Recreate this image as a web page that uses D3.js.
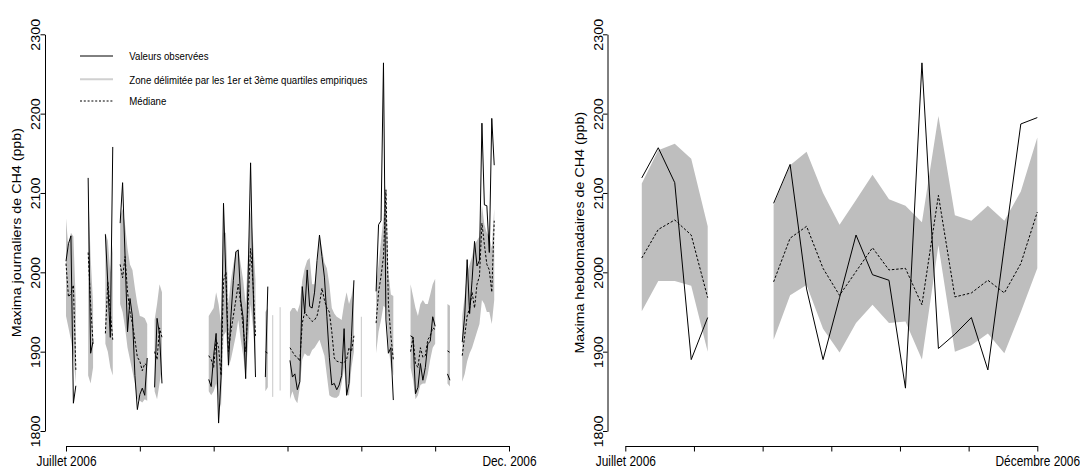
<!DOCTYPE html>
<html>
<head>
<meta charset="utf-8">
<script src="https://cdn.jsdelivr.net/npm/d3@7"></script>
<style>
  body { margin: 0; background: #fff; }
  svg { display: block; }
  text { font-family: "Liberation Sans", Arial, Helvetica, sans-serif; font-size: 11.9px; fill: #000; }
</style>
</head>
<body>
<div id="chart"></div>
<script>
// daily series, stored as runs of consecutive days (gaps = missing days)
const runStart = [0, 9, 16, 22, 36, 58, 81, 84, 87, 91, 120, 126, 140, 155, 161];
const dayObs = [
  [2014, 2036, 2046, 1835, 1857],
  [2119, 1898, 1913],
  [2048, 1985, 1918, 2158],
  [2062, 2113, 2020, 1925, 1967, 1944, 1870, 1827, 1846, 1854, 1845, 1892],
  [1855, 1942, 1922, 1860],
  [1865, 1856, 1895, 1923, 1810, 1868, 2087, 1990, 1883, 1944, 1990, 2026, 2028, 1965, 1942, 1866, 1993, 2138, 1985, 1868],
  [1868, 1982],
  [null],
  [null],
  [1889, 1868, 1872, 1852, 1862, 1982, 1949, 2003, 1957, 1955, 1975, 2015, 2047, 2020, 1994, 1944, 1893, 1858, 1860, 1852, 1858, 1870, 1929, 1845, 1860, 1919, 1990],
  [null],
  [1976, 2060, 2065, 2264, 1940, 1898, 1905, 1839],
  [1920, 1918, 1847, 1855, 1885, 1864, 1880, 1910, 1913, 1944, 1932],
  [1872, 1864],
  [1912, 1945, 2016, 1948, 1990, 2039, 2008, 2015, 2188, 2085, 2084, 2025, 2194, 2135]
];
const dayMed = [
  [2011, 1969, 1973, 1984, 1877],
  [2025, 1960, 1910],
  [1923, 1988, 1950, 1915],
  [2010, 1993, 2020, 1975, 1950, 1935, 1915, 1893, 1888, 1876, 1885, 1882],
  [1900, 1890, 1930, 1918],
  [1895, 1890, 1880, 1915, 1905, 1870, 1990, 2000, 1900, 1925, 1945, 1965, 1985, 1960, 1930, 1900, 1960, 2030, 1985, 1920],
  [1900, 1898],
  [null],
  [null],
  [1905, 1900, 1895, 1893, 1888, 1936, 1950, 1945, 1942, 1938, 1940, 1945, 1960, 1980, 1965, 1955, 1950, 1925, 1892, 1888, 1887, 1886, 1886, 1890, 1905, 1900, 1920],
  [null],
  [1936, 1975, 1995, 2020, 2104, 1960, 1920, 1890],
  [1900, 1918, 1885, 1880, 1905, 1893, 1895, 1915, 1920, 1930, 1928],
  [1901, 1899],
  [1895, 1920, 1945, 1955, 1975, 1955, 1985, 1995, 2062, 2035, 2010, 2003, 1975, 2065]
];
const dayQ3 = [
  [2068, 2030, 2050, 2045, 1960],
  [2110, 2020, 1960],
  [2050, 2040, 2000, 2035],
  [2070, 2080, 2060, 2030, 2010, 2003, 1980, 1960, 1945, 1944, 1942, 1935],
  [1940, 1960, 1985, 1975],
  [1945, 1950, 1955, 1975, 1960, 1935, 2050, 2050, 1960, 1990, 2010, 2025, 2030, 2010, 1990, 1960, 2025, 2080, 2040, 1990],
  [1950, 1955],
  [1946],
  [1956],
  [1950, 1955, 1955, 1950, 1960, 1990, 2005, 2015, 2018, 1985, 1985, 2010, 2048, 2030, 2012, 2005, 1985, 1955, 1948, 1944, 1942, 1940, 1960, 1975, 1960, 1970, 1990],
  [1944],
  [1985, 2010, 2040, 2070, 2110, 2000, 1972, 1970],
  [1985, 1970, 1955, 1945, 1960, 1965, 1960, 1960, 1972, 1985, 1992],
  [1960, 1958],
  [1945, 1970, 2000, 2010, 2020, 2035, 2040, 2045, 2085, 2060, 2050, 2045, 2030, 2080]
];
const dayQ1 = [
  [1945, 1930, 1915, 1895, 1860],
  [1870, 1860, 1880],
  [1910, 1900, 1880, 1870],
  [1960, 1950, 1930, 1905, 1890, 1875, 1860, 1840, 1838, 1836, 1840, 1838],
  [1850, 1840, 1860, 1880],
  [1850, 1845, 1850, 1860, 1840, 1830, 1920, 1925, 1880, 1890, 1905, 1920, 1940, 1915, 1895, 1870, 1910, 1960, 1930, 1880],
  [1850, 1855],
  [1843],
  [1851],
  [1840, 1850, 1840, 1835, 1855, 1890, 1898, 1895, 1895, 1902, 1905, 1910, 1915, 1905, 1895, 1870, 1845, 1843, 1842, 1842, 1845, 1860, 1880, 1845, 1845, 1880, 1900],
  [1843],
  [1898, 1925, 1940, 1958, 1955, 1910, 1880, 1870],
  [1880, 1865, 1840, 1845, 1858, 1860, 1860, 1872, 1890, 1905, 1910],
  [1860, 1856],
  [1862, 1872, 1888, 1898, 1905, 1915, 1925, 1935, 1965, 1960, 1950, 1950, 1935, 1965]
];

// weekly series, weeks 1..25
const weeks = d3.range(1, 26);
const weekObs = [2119, 2157, 2113, 1890, 1943, null, null, null, 2087, 2136, 1979, 1890, 1968, 2047, 1997, 1990, 1854, 2264, 1904, 1922, 1943, 1877, 2033, 2187, 2195];
const weekMed = [2018, 2054, 2066, 2047, 1968, null, null, null, 1988, 2043, 2058, 2005, 1971, 2001, 2031, 2003, 2005, 1959, 2097, 1969, 1974, 1990, 1974, 2011, 2076];
const weekQ3 = [2112, 2154, 2162, 2143, 2058, null, null, null, 2085, 2135, 2152, 2100, 2060, 2091, 2123, 2092, 2084, 2063, 2197, 2072, 2065, 2084, 2065, 2102, 2170];
const weekQ1 = [1951, 1989, 1989, 1983, 1900, null, null, null, 1915, 1971, 1984, 1929, 1899, 1936, 1959, 1936, 1938, 1890, 2034, 1900, 1908, 1923, 1898, 1950, 2005];

const yTicks = [1800, 1900, 2000, 2100, 2200, 2300];
const dayTicks = [0, 30, 60, 90, 120, 150, 180];
const dayTickLabels = ["Juillet 2006", "", "", "", "", "", "Dec. 2006"];
const weekTicks = d3.range(7).map(i => i * 25 / 6);
const weekTickLabels = ["Juillet 2006", "", "", "", "", "", "Décembre 2006"];
const legendLabels = ["Valeurs observées", "Zone délimitée par les 1er et 3ème quartiles empiriques", "Médiane"];

const width = 1080, height = 469;
const stretch = 1.2;   // the original picture is taller than wide, text is stretched vertically
const bandColor = "#bebebe";

function flatten(runs, n) {
  let out = new Array(n).fill(null);
  runs.forEach((r, i) => r.forEach((v, j) => { out[runStart[i] + j] = v; }));
  return out;
}

const nDays = 175;
const dObs = flatten(dayObs, nDays), dMed = flatten(dayMed, nDays),
      dHi = flatten(dayQ3, nDays), dLo = flatten(dayQ1, nDays);
const dayRows = d3.range(nDays).map(i => ({t: i, obs: dObs[i], med: dMed[i], hi: dHi[i], lo: dLo[i]}));
const weekRows = weeks.map((w, i) => ({t: w, obs: weekObs[i], med: weekMed[i], hi: weekQ3[i], lo: weekQ1[i]}));

const y = d3.scaleLinear().domain([1800, 2300]).range([431, 34.3]);
const xDay = d3.scaleLinear().domain([0, 180]).range([66, 509]);
const xWeek = d3.scaleLinear().domain([0, 25]).range([625.3, 1037.3]);

const svg = d3.select("#chart").append("svg")
  .attr("width", width)
  .attr("height", height);

function drawPanel(rows, x, axisX, ticks, tickLabels, title) {
  let g = svg.append("g");

  let area = d3.area()
    .defined(d => d.lo != null && d.hi != null)
    .x(d => x(d.t))
    .y0(d => y(d.lo))
    .y1(d => y(d.hi));
  g.append("path").datum(rows)
    .attr("d", area)
    .attr("fill", bandColor);

  // single days of the band cannot make an area, draw them as thin strokes
  let lone = rows.filter((d, i) => d.lo != null &&
    (i == 0 || rows[i - 1].lo == null) && (i == rows.length - 1 || rows[i + 1].lo == null));
  g.selectAll(".lone").data(lone).enter().append("line")
    .attr("class", "lone")
    .attr("x1", d => x(d.t)).attr("x2", d => x(d.t))
    .attr("y1", d => y(d.lo)).attr("y2", d => y(d.hi))
    .attr("stroke", "#c8c8c8")
    .attr("stroke-width", 1);

  let medLine = d3.line().defined(d => d.med != null).x(d => x(d.t)).y(d => y(d.med));
  g.append("path").datum(rows)
    .attr("d", medLine)
    .attr("fill", "none")
    .attr("stroke", "#000")
    .attr("stroke-width", 1)
    .attr("stroke-dasharray", "2.5,1.8");

  let obsLine = d3.line().defined(d => d.obs != null).x(d => x(d.t)).y(d => y(d.obs));
  g.append("path").datum(rows)
    .attr("d", obsLine)
    .attr("fill", "none")
    .attr("stroke", "#000")
    .attr("stroke-width", 1);

  let xAxis = g.append("g")
    .attr("transform", "translate(0,446)")
    .call(d3.axisBottom(x).tickValues(ticks).tickFormat((d, i) => tickLabels[i]).tickSize(5.5).tickSizeOuter(0));
  xAxis.attr("font-family", null).attr("font-size", null);
  xAxis.selectAll(".tick text")
    .attr("dy", null)
    .attr("y", 20.5 / stretch)
    .attr("transform", `scale(1,${stretch})`);

  let yAxis = g.append("g")
    .attr("transform", `translate(${axisX},0)`)
    .call(d3.axisLeft(y).tickValues(yTicks).tickFormat(d3.format("d")).tickSize(4.5).tickSizeOuter(0));
  yAxis.attr("font-family", null).attr("font-size", null);
  yAxis.selectAll(".tick text")
    .attr("x", null)
    .attr("dy", null)
    .attr("text-anchor", "middle")
    .attr("transform", `translate(-5,0) scale(1,${stretch}) rotate(-90)`);

  g.append("text")
    .attr("transform", `translate(${axisX - 24},${(y(1800) + y(2300)) / 2}) scale(1,${stretch}) rotate(-90)`)
    .attr("text-anchor", "middle")
    .text(title);

  return g;
}

let left = drawPanel(dayRows, xDay, 45, dayTicks, dayTickLabels, "Maxima journaliers de CH4 (ppb)");
drawPanel(weekRows, xWeek, 607.5, weekTicks, weekTickLabels, "Maxima hebdomadaires de CH4 (ppb)");

// legend of the left panel
const legendY = [56, 79.3, 101];
const legendStyle = [
  {stroke: "#000", width: 1, dash: null},
  {stroke: "#d0d0d0", width: 2, dash: null},
  {stroke: "#000", width: 1, dash: "2,1.8"}
];
let legend = left.append("g");
legendLabels.forEach((lab, i) => {
  legend.append("line")
    .attr("x1", 80).attr("x2", 113)
    .attr("y1", legendY[i]).attr("y2", legendY[i])
    .attr("stroke", legendStyle[i].stroke)
    .attr("stroke-width", legendStyle[i].width)
    .attr("stroke-dasharray", legendStyle[i].dash);
  legend.append("text")
    .attr("transform", `translate(129.3,${legendY[i] + 4.3}) scale(1,${stretch})`)
    .style("font-size", "9.66px")
    .text(lab);
});
</script>
</body>
</html>
